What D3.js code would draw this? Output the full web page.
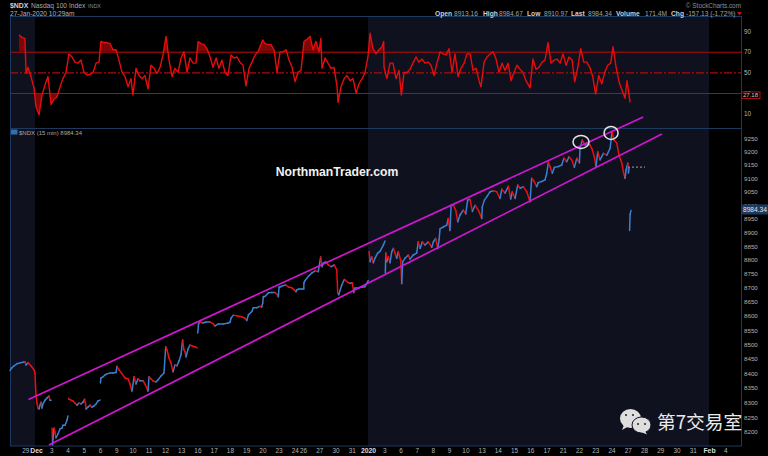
<!DOCTYPE html>
<html><head><meta charset="utf-8">
<script src="https://cdn.jsdelivr.net/npm/d3@7/dist/d3.min.js"></script>
<style>html,body{margin:0;padding:0;background:#000;overflow:hidden}svg{display:block}text{font-family:"Liberation Sans",Arial,sans-serif}</style>
</head><body><div id="c"></div>
<script>
// time unit: trading sessions counted from 2 Dec 2019
const tickLabels=["29","Dec","3","4","5","6","9","10","11","12","13","16","17","18","19","20","23","24","26","27","30","31","2020","3","6","7","8","9","10","13","14","15","16","17","21","22","23","24","27","28","29","30","31","Feb","4"];
const tickDays=[-0.6,0.06,1,2,3,4,5,6,7,8,9,10,11,12,13,14,15,16,16.5,17.5,18.5,19.5,20.5,21.5,22.5,23.5,24.5,25.5,26.5,27.5,28.5,29.5,30.5,31.5,32.5,33.5,34.5,35.5,36.5,37.5,38.5,39.5,40.5,41.5,42.5];
const boldTicks=["Dec","2020","Feb"];
const priceTicks=[8200,8250,8300,8350,8400,8450,8500,8550,8600,8650,8700,8750,8800,8850,8900,8950,9000,9050,9100,9150,9200,9250];
const rsiTicks=[10,30,50,70,90];
const shadedSpans=[[-1.54,0],[20.5,41.5]];
const rsiLevels=[30,50,70];
const lastPrice=8984.34, lastRsi=27.18;

const rsiSeries=[[-.99,86.5],[-.8,84],[-.62,83],[-.55,49],[-.43,55],[-.25,46],[-.06,35],[.06,16.5],[.25,9],[.43,28],[.62,38],[.8,46],[.99,19],[1.17,24],[1.35,26],[1.54,36],[1.72,44],[1.91,50],[2.09,68],[2.28,65],[2.46,60],[2.65,59],[2.83,62],[3.02,50],[3.2,47.5],[3.39,48],[3.57,50],[3.76,59],[3.94,60],[4.06,80],[4.25,79],[4.43,79],[4.62,78],[4.8,72],[4.99,72],[5.17,62],[5.36,50],[5.54,46],[5.73,36],[5.91,44],[6.03,28],[6.22,54],[6.4,47],[6.59,44],[6.77,47],[6.96,34],[7.14,57],[7.33,54],[7.51,49],[7.7,55],[7.88,67],[8.07,85],[8.25,62],[8.44,46],[8.62,54],[8.81,50],[8.99,64],[9.17,70],[9.36,50],[9.54,64],[9.73,59],[9.91,59],[10.04,80],[10.22,78],[10.41,77],[10.59,73],[10.78,65],[10.96,55],[11.15,64],[11.33,54],[11.51,62],[11.7,50],[11.88,47],[12.07,67],[12.25,64],[12.44,65],[12.62,60],[12.81,57],[12.99,37],[13.18,54],[13.36,60],[13.55,67],[13.73,70],[14.02,81.5],[14.16,78],[14.35,77],[14.53,77],[14.72,72],[14.9,50],[15.09,70],[15.27,70],[15.46,72],[15.64,62],[15.83,55],[16.01,41],[16.19,50],[16.38,52],[16.56,80],[16.75,82],[16.93,85],[17.12,72],[17.3,80],[17.49,70],[17.6,83],[17.67,54],[17.86,64],[18.04,59],[18.23,54],[18.41,55],[18.6,36],[18.66,21],[18.84,36],[19.03,44],[19.21,47],[19.4,42],[19.58,44],[19.77,30],[19.95,39],[20.14,44],[20.32,50],[20.5,65],[20.63,88],[20.81,73],[21,68],[21.18,72],[21.37,75],[21.47,80],[21.49,55],[21.67,44],[21.86,59],[22.04,59],[22.23,44],[22.41,52],[22.56,28],[22.72,50],[22.91,50],[23.09,53],[23.27,59],[23.46,65],[23.64,60],[23.83,63],[24.01,59],[24.2,60],[24.38,57],[24.57,47],[24.75,59],[24.94,70],[25.12,68],[25.31,67],[25.49,73],[25.68,50],[25.86,68],[26.05,46],[26.23,54],[26.42,59],[26.6,68],[26.79,68],[26.97,52],[27.16,54],[27.34,42],[27.46,36],[27.65,60],[27.83,65],[28.02,68],[28.2,70],[28.39,63],[28.57,50],[28.76,59],[28.94,52],[29.13,59],[29.31,42],[29.49,50],[29.68,57],[29.87,53],[30.05,50],[30.23,42],[30.48,35],[30.66,63],[30.85,53],[31.03,55],[31.22,60],[31.4,62],[31.59,79],[31.77,59],[31.96,62],[32.14,63],[32.33,59],[32.51,68],[32.7,57],[32.88,65],[33.07,62],[33.23,41],[33.42,55],[33.6,73],[33.79,60],[33.97,60],[34.16,55],[34.34,46],[34.52,29],[34.71,47],[34.9,39],[35.08,50],[35.26,57],[35.45,59],[35.59,75],[35.78,55],[35.96,41],[36.14,33],[36.33,25],[36.45,42],[36.64,21]];

// each inner list is one unbroken run of [session, price]
const priceRuns=[
[[-1.54,8410],[-1.42,8419],[-1.29,8426],[-1.11,8433],[-.92,8436],[-.74,8438],[-.62,8440],[-.55,8429],[-.43,8436],[-.25,8426],[-.06,8412],[0,8401],[.03,8360],[.06,8326],[.12,8298],[.18,8281],[.25,8278],[.31,8291],[.37,8301],[.43,8281],[.49,8295],[.62,8308],[.74,8315],[.86,8322],[.92,8308],[.99,8308]],
[[1.05,8213],[1.08,8157],[1.17,8213],[1.23,8200],[1.29,8180],[1.42,8194],[1.54,8210],[1.66,8213],[1.72,8223],[1.85,8223],[1.97,8240],[2.03,8254]],
[[2.06,8314],[2.09,8311],[2.22,8308],[2.34,8305],[2.46,8298],[2.59,8291],[2.71,8298],[2.83,8295],[2.96,8301],[3.05,8311],[3.11,8295],[3.14,8278],[3.26,8284],[3.39,8291],[3.51,8284],[3.63,8288],[3.76,8295],[3.88,8305],[4,8308]],
[[4.03,8367],[4.06,8384],[4.19,8388],[4.31,8394],[4.43,8398],[4.62,8401],[4.8,8401],[4.99,8403],[5.05,8424],[5.17,8412],[5.36,8398],[5.54,8384],[5.73,8381],[5.85,8363],[5.97,8339],[6.1,8388],[6.22,8363],[6.34,8381],[6.47,8374],[6.65,8374],[6.77,8363],[6.96,8339],[7.02,8388],[7.14,8381],[7.27,8374],[7.45,8370],[7.57,8377],[7.76,8391],[7.94,8401],[8.05,8492],[8.13,8481],[8.25,8453],[8.37,8436],[8.5,8405],[8.62,8429],[8.74,8426],[8.87,8443],[8.99,8464],[9.09,8516],[9.17,8481],[9.24,8474],[9.3,8457],[9.42,8484],[9.54,8498],[9.67,8495],[9.85,8492],[9.98,8488]],
[[10.02,8540],[10.07,8572],[10.16,8579],[10.34,8575],[10.53,8579],[10.78,8579],[10.98,8572],[11.08,8565],[11.29,8572],[11.6,8572],[11.9,8575],[12.01,8578],[12.07,8592],[12.21,8603],[12.42,8601],[12.73,8597],[12.93,8592],[13.04,8584],[13.14,8604],[13.35,8616],[13.44,8629],[13.65,8629],[13.85,8634],[13.96,8632],[14.02,8646],[14.06,8669],[14.16,8669],[14.37,8682],[14.58,8683],[14.78,8683],[14.95,8675],[14.98,8668],[15.03,8703],[15.09,8703],[15.23,8707],[15.44,8710],[15.6,8703],[15.81,8700],[15.97,8693],[16.07,8686],[16.13,8693],[16.26,8696],[16.42,8696],[16.55,8696],[16.56,8719],[16.63,8726],[16.83,8741],[17.04,8753],[17.24,8761],[17.44,8758],[17.59,8811],[17.67,8776],[17.75,8789],[17.9,8794],[18.06,8782],[18.23,8776],[18.43,8782],[18.58,8764],[18.64,8682],[18.7,8675],[18.89,8710],[19.05,8730],[19.25,8720],[19.4,8716],[19.54,8718],[19.62,8683],[19.7,8699],[19.91,8699],[20.01,8701],[20.32,8704],[20.52,8726]],
[[20.57,8831],[20.63,8794],[20.73,8812],[20.83,8790],[20.94,8807],[21.1,8825],[21.24,8831],[21.45,8854],[21.55,8869]],
[[21.57,8753],[21.6,8825],[21.66,8794],[21.76,8812],[21.86,8790],[21.97,8831],[22.07,8842],[22.17,8824],[22.27,8806],[22.37,8830],[22.52,8797],[22.58,8715],[22.64,8794],[22.78,8806],[22.99,8818],[23.09,8803],[23.29,8818],[23.5,8825],[23.6,8866],[23.71,8842],[23.85,8866],[24.01,8854],[24.22,8866],[24.43,8846],[24.53,8866],[24.67,8878],[24.8,8842],[24.88,8873],[24.94,8914],[25.14,8920],[25.35,8927],[25.45,8951],[25.55,8907],[25.62,9000],[25.76,9000],[25.91,8980],[26.03,8939],[26.17,8964],[26.37,8982],[26.52,8968],[26.64,9019],[26.78,9022],[26.93,8977],[27.09,9000],[27.3,8982],[27.51,8951],[27.54,8994],[27.67,9019],[27.81,9031],[28.02,9050],[28.22,9054],[28.43,9050],[28.63,9025],[28.74,9059],[28.94,9045],[29.15,9070],[29.29,9023],[29.39,9050],[29.56,9025],[29.72,9075],[29.87,9063],[30.07,9069],[30.28,9050],[30.48,9013],[30.58,9100],[30.68,9094],[30.89,9069],[30.99,9084],[31.2,9088],[31.4,9094],[31.51,9119],[31.61,9160],[31.71,9144],[31.85,9119],[31.98,9141],[32.22,9144],[32.43,9150],[32.57,9175],[32.74,9162],[32.88,9181],[33.05,9169],[33.21,9141],[33.36,9175],[33.52,9158],[33.56,9213],[33.7,9244],[33.87,9225],[34.03,9234],[34.17,9225],[34.28,9213],[34.44,9181],[34.54,9144],[34.65,9200],[34.79,9169],[35,9194],[35.21,9187],[35.41,9213],[35.53,9276],[35.65,9244],[35.82,9233],[35.96,9187],[36.13,9157],[36.23,9124],[36.33,9100],[36.39,9131],[36.5,9157],[36.54,9120],[36.58,9139]],
[[36.61,8907],[36.64,8966],[36.7,8981]]
];
const channelUpper=[[-.4,8310],[37.45,9332]];
const channelLower=[[.86,8156],[38.6,9267]];
const circledPeaks=[[33.62,9237],[35.47,9271]];
const restLevel=[[36.51,9142],[37.56,9142]];
const headerFields=[["Open","8913.16"],["High","8984.67"],["Low","8910.97"],["Last","8984.34"],["Volume","171.4M"],["Chg","-157.13 (-1.72%)"]];

const W=768,H=456,L=10,R=741,T=17,M=128,B=446;
const x=d3.scaleLinear().domain([0,41.5]).range([35,709]);
const yRsi=d3.scaleLinear().domain([10,90]).range([113.7,31.2]);
const yP=d3.scaleLog().domain([8200,9250]).range([432,138.5]);
const svg=d3.select("#c").append("svg").attr("width",W).attr("height",H).style("background","#000");
const defs=svg.append("defs");
defs.append("clipPath").attr("id","pHi").append("rect").attr("x",L).attr("width",R-L).attr("y",T).attr("height",yRsi(70)-T);
defs.append("clipPath").attr("id","pLo").append("rect").attr("x",L).attr("width",R-L).attr("y",yRsi(30)).attr("height",M-yRsi(30));

// shaded spans
svg.append("g").selectAll("rect").data(shadedSpans).join("rect")
 .attr("x",d=>x(d[0])).attr("width",d=>x(d[1])-x(d[0])).attr("y",T).attr("height",B-T).attr("fill","#10111f");

// RSI
const area=l=>d3.area().x(d=>x(d[0])).y0(yRsi(l)).y1(d=>yRsi(d[1]));
svg.append("path").datum(rsiSeries).attr("d",area(70)).attr("fill","#7d0707").attr("clip-path","url(#pHi)");
svg.append("path").datum(rsiSeries).attr("d",area(30)).attr("fill","#7d0707").attr("clip-path","url(#pLo)");
svg.append("g").selectAll("line").data(rsiLevels).join("line")
 .attr("x1",L).attr("x2",R).attr("y1",d=>yRsi(d)+.4).attr("y2",d=>yRsi(d)+.4)
 .attr("stroke","#b00a0a").attr("stroke-width",1.1).attr("stroke-dasharray",d=>d===50?"8,2,2,2":null);
svg.append("path").datum(rsiSeries).attr("fill","none").attr("stroke","#e80c0c").attr("stroke-width",1.4).attr("stroke-linejoin","round")
 .attr("d",d3.line().x(d=>x(d[0])).y(d=>yRsi(d[1])));

// frame
const frame=svg.append("g").attr("stroke","#1b3a5e").attr("fill","none");
frame.append("rect").attr("x",L+.5).attr("y",T-.5).attr("width",R-L).attr("height",B-T+.5);
frame.append("line").attr("x1",L).attr("x2",R).attr("y1",M+.5).attr("y2",M+.5);

// price bars
const segs=[];
priceRuns.forEach(run=>d3.pairs(run).forEach(p=>segs.push(p)));
svg.append("g").selectAll("line").data(segs).join("line")
 .attr("x1",d=>x(d[0][0])).attr("y1",d=>yP(d[0][1])).attr("x2",d=>x(d[1][0])).attr("y2",d=>yP(d[1][1]))
 .attr("stroke",d=>d[1][1]>=d[0][1]?"#3b7fd0":"#e81010").attr("stroke-width",1.5).attr("stroke-linecap","round");

// channel
svg.append("g").selectAll("line").data([channelUpper,channelLower]).join("line")
 .attr("x1",d=>x(d[0][0])).attr("y1",d=>yP(d[0][1])).attr("x2",d=>x(d[1][0])).attr("y2",d=>yP(d[1][1]))
 .attr("stroke","#cf17cf").attr("stroke-width",1.7);
svg.append("line").attr("x1",x(restLevel[0][0])).attr("x2",x(restLevel[1][0])).attr("y1",yP(restLevel[0][1])).attr("y2",yP(restLevel[1][1]))
 .attr("stroke","#8a8a8a").attr("stroke-width",1.2).attr("stroke-dasharray","2,2");
svg.append("g").selectAll("ellipse").data(circledPeaks).join("ellipse")
 .attr("cx",d=>x(d[0])).attr("cy",d=>yP(d[1])).attr("rx",(d,i)=>i?7:8).attr("ry",6.5)
 .attr("fill","none").attr("stroke","#e4e4e4").attr("stroke-width",1.5);

// axes
const axisStyle=(g,size)=>{g.select(".domain").remove();g.selectAll(".tick line").remove();
 g.selectAll("text").attr("fill","#b4b4b4").attr("font-size",size).style("font-family",'"Liberation Sans",Arial,sans-serif');};
svg.append("g").attr("transform",`translate(${R},0)`)
 .call(d3.axisRight(yP).tickValues(priceTicks).tickFormat(d3.format("d")).tickSize(0).tickPadding(3)).call(axisStyle,6.2);
svg.append("g").attr("transform",`translate(${R},0)`)
 .call(d3.axisRight(yRsi).tickValues(rsiTicks).tickFormat(d3.format("d")).tickSize(0).tickPadding(3)).call(axisStyle,6.4);
const xa=svg.append("g").attr("transform",`translate(0,${B+1})`)
 .call(d3.axisBottom(x).tickValues(tickDays).tickFormat((d,i)=>tickLabels[i]).tickSize(0).tickPadding(1));
axisStyle(xa,6.4);
xa.selectAll("text").attr("font-weight",(d,i)=>boldTicks.includes(tickLabels[i])?"bold":null)
 .attr("font-size",(d,i)=>boldTicks.includes(tickLabels[i])?6.8:6.4)
 .attr("fill",(d,i)=>boldTicks.includes(tickLabels[i])?"#dcdcdc":"#b4b4b4");

// value tags
const tag=(val,y,w,h,fill,stroke,col,fs)=>{
 svg.append("rect").attr("x",R+.5).attr("y",y-h/2).attr("width",w).attr("height",h).attr("fill",fill).attr("stroke",stroke);
 svg.append("text").attr("x",R+2).attr("y",y+fs*.36).attr("font-size",fs).attr("fill",col).text(val);};
tag(lastPrice.toFixed(2),yP(lastPrice),26,9,"#1d3a5f","#1d3a5f","#e6e6e6",6.6);
tag(lastRsi.toFixed(2),yRsi(lastRsi)-.8,18.5,6.5,"#000","#b01010","#c8c8c8",6);

// header
const ht=(X,Y,s,o={})=>svg.append("text").attr("x",X).attr("y",Y).attr("font-size",o.fs||8).attr("font-weight",o.b?"bold":null)
 .attr("fill",o.c||"#aaa").attr("text-anchor",o.a||"start").text(s);
ht(10,8,"$NDX",{b:1,c:"#d0d0d0",fs:6.9});
ht(31,8,"Nasdaq 100 Index",{c:"#a8a8a8",fs:6.7});
ht(88,8,"INDX",{c:"#8c8c8c",fs:5.4});
ht(10,16,"27-Jan-2020 10:29am",{c:"#b4b4b4",fs:6.6});
ht(741,8,"© StockCharts.com",{c:"#8e8e8e",fs:6.4,a:"end"});
const hx=[[435,454],[483,499],[527,544],[571,588],[616,645],[671,686]];
headerFields.forEach((f,i)=>{ht(hx[i][0],16,f[0],{b:1,c:"#d0d0d0",fs:6.7});ht(hx[i][1],16,f[1],{c:"#a4a4a4",fs:6.6});});
svg.append("path").attr("d","M737,12h5l-2.5,3.5z").attr("fill","#d01010");

// sub-panel label
svg.append("rect").attr("x",11).attr("y",129.5).attr("width",6.5).attr("height",5).attr("fill","#2f6fb8");
ht(19,134.5,"$NDX (15 min) 8984.34",{c:"#a8a8a8",fs:6});

// annotation
ht(337,176,"NorthmanTrader.com",{b:1,c:"#f2f2f2",fs:12.2,a:"middle"});

// watermark
const wm=svg.append("g").attr("fill","#dedede");
wm.append("ellipse").attr("cx",630.5).attr("cy",418.5).attr("rx",10.5).attr("ry",9.5);
wm.append("path").attr("d","M624,425l-2,5l7,-4z");
wm.append("ellipse").attr("cx",641.5).attr("cy",425).attr("rx",9.5).attr("ry",8).attr("stroke","#10111f").attr("stroke-width",1);
wm.append("path").attr("d","M645,431l2,3.5l-6,-2.5z");
[[626,415],[633,415],[638,424],[645,424]].forEach(p=>svg.append("circle").attr("cx",p[0]).attr("cy",p[1]).attr("r",1).attr("fill","#222"));
svg.append("text").attr("x",657).attr("y",429).attr("font-size",18.7).attr("fill","#eaeaea")
 .style("font-family",'"Noto Sans CJK SC",sans-serif').text("第7交易室");
</script></body></html>
